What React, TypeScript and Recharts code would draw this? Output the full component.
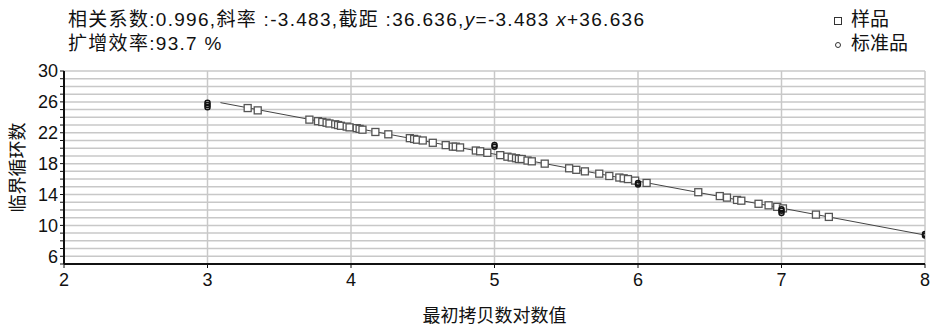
import { ScatterChart, Scatter, XAxis, YAxis, CartesianGrid, Label } from "recharts";

const xTicks = [2, 3, 4, 5, 6, 7, 8];
const yTicks = [5, 6, 7, 8, 9, 10, 11, 12, 13, 14, 15, 16, 17, 18, 19, 20, 21, 22, 23, 24, 25, 26, 27, 28, 29, 30];
const yLabelled = [6, 10, 14, 18, 22, 26, 30];

const sampleX = [
  3.28, 3.35, 3.71, 3.77, 3.8, 3.83, 3.85, 3.89, 3.91, 3.93, 3.97, 3.99, 4.04, 4.06, 4.08, 4.17, 4.26,
  4.41, 4.44, 4.46, 4.5, 4.57, 4.66, 4.71, 4.73, 4.76, 4.87, 4.9, 4.95, 5.04, 5.09, 5.12, 5.15, 5.17,
  5.19, 5.23, 5.26, 5.35, 5.52, 5.57, 5.63, 5.73, 5.8, 5.87, 5.9, 5.93, 5.98, 6.06, 6.42, 6.57, 6.62,
  6.69, 6.72, 6.84, 6.91, 6.97, 7.01, 7.24, 7.33,
];
const sampleCt = [
  25.2, 24.9, 23.7, 23.5, 23.4, 23.3, 23.2, 23.1, 23.0, 22.9, 22.8, 22.7, 22.6, 22.5, 22.4, 22.1, 21.8,
  21.3, 21.2, 21.1, 21.0, 20.7, 20.4, 20.2, 20.2, 20.1, 19.7, 19.6, 19.4, 19.1, 18.9, 18.8, 18.7, 18.6,
  18.6, 18.4, 18.3, 18.0, 17.4, 17.2, 17.0, 16.7, 16.4, 16.2, 16.1, 16.0, 15.8, 15.5, 14.3, 13.8, 13.6,
  13.3, 13.2, 12.8, 12.6, 12.4, 12.2, 11.4, 11.1,
];

const standardX = [3, 3, 3, 5, 5, 6, 6, 7, 7, 7, 8, 8];
const standardCt = [25.3, 25.6, 25.9, 20.2, 20.4, 15.3, 15.5, 11.6, 11.9, 12.1, 8.7, 8.9];

// fitted line end points
const fitX = [3.09, 8.0];
const fitCt = [25.9, 8.75];

const samples = sampleX.map((x, i) => ({ x, y: sampleCt[i] }));
const standards = standardX.map((x, i) => ({ x, y: standardCt[i] }));
const fitLine = fitX.map((x, i) => ({ x, y: fitCt[i] }));

const font = "'Liberation Sans', 'Noto Sans CJK SC', sans-serif";

function SquareMark(props: any) {
  const { cx, cy } = props;
  return <rect x={cx - 3.5} y={cy - 3.5} width={7} height={7} fill="#fff" stroke="#555" strokeWidth={1.3} />;
}

function CircleMark(props: any) {
  const { cx, cy } = props;
  return <circle cx={cx} cy={cy} r={2.5} fill="none" stroke="#111" strokeWidth={1.5} />;
}

export default function App() {
  return (
    <div style={{ position: "fixed", left: 0, top: 0, width: 930, height: 325, background: "#fff", fontFamily: font }}>
      <div style={{ position: "absolute", left: 68, top: 8, fontSize: 19, lineHeight: "24px", color: "#111", whiteSpace: "nowrap", letterSpacing: 1.3 }}>
        <div>相关系数:0.996,斜率 :-3.483,截距 :36.636,<i>y</i>=-3.483 <i>x</i>+36.636</div>
        <div>扩增效率:93.7 %</div>
      </div>
      <div style={{ position: "absolute", left: 834, top: 8, fontSize: 19, lineHeight: "24px", color: "#111", whiteSpace: "nowrap" }}>
        <div>
          <span style={{ display: "inline-block", width: 6, height: 6, border: "1.5px solid #333", marginRight: 9, verticalAlign: "middle" }} />
          样品
        </div>
        <div>
          <span style={{ display: "inline-block", width: 4, height: 4, borderRadius: 3, border: "1.3px solid #333", marginRight: 10, marginLeft: 1, verticalAlign: "middle" }} />
          标准品
        </div>
      </div>
      <ScatterChart width={930} height={325} margin={{ top: 71, right: 5, bottom: 0, left: 0 }} style={{ position: "absolute", left: 0, top: 0 }}>
        <CartesianGrid stroke="#c8c8c8" strokeWidth={1.5} horizontalValues={yTicks} verticalValues={xTicks} />
        <XAxis
          type="number"
          dataKey="x"
          domain={[2, 8]}
          ticks={xTicks}
          allowDataOverflow
          height={61}
          tick={{ fontSize: 18, fill: "#111", fontFamily: font, dy: 3 }}
          tickLine={{ stroke: "#111" }}
          tickSize={4}
          axisLine={{ stroke: "#111", strokeWidth: 2 }}
        >
          <Label value="最初拷贝数对数值" position="insideBottom" offset={3} style={{ fontSize: 18, fill: "#111", fontFamily: font }} />
        </XAxis>
        <YAxis
          type="number"
          dataKey="y"
          domain={[5, 30]}
          ticks={yTicks}
          interval={0}
          allowDataOverflow
          width={64}
          tickFormatter={(v: number) => (yLabelled.includes(v) ? String(v) : "")}
          tick={{ fontSize: 18, fill: "#111", fontFamily: font }}
          tickLine={{ stroke: "#111" }}
          tickSize={4}
          axisLine={{ stroke: "#111", strokeWidth: 2 }}
        >
          <Label
            value="临界循环数"
            angle={-90}
            position="insideLeft"
            offset={18}
            style={{ fontSize: 18, fill: "#111", fontFamily: font, textAnchor: "middle" }}
          />
        </YAxis>
        <Scatter data={fitLine} line={{ stroke: "#444", strokeWidth: 1 }} shape={() => <g />} isAnimationActive={false} />
        <Scatter data={samples} shape={SquareMark} isAnimationActive={false} />
        <Scatter data={standards} shape={CircleMark} isAnimationActive={false} />
      </ScatterChart>
    </div>
  );
}
